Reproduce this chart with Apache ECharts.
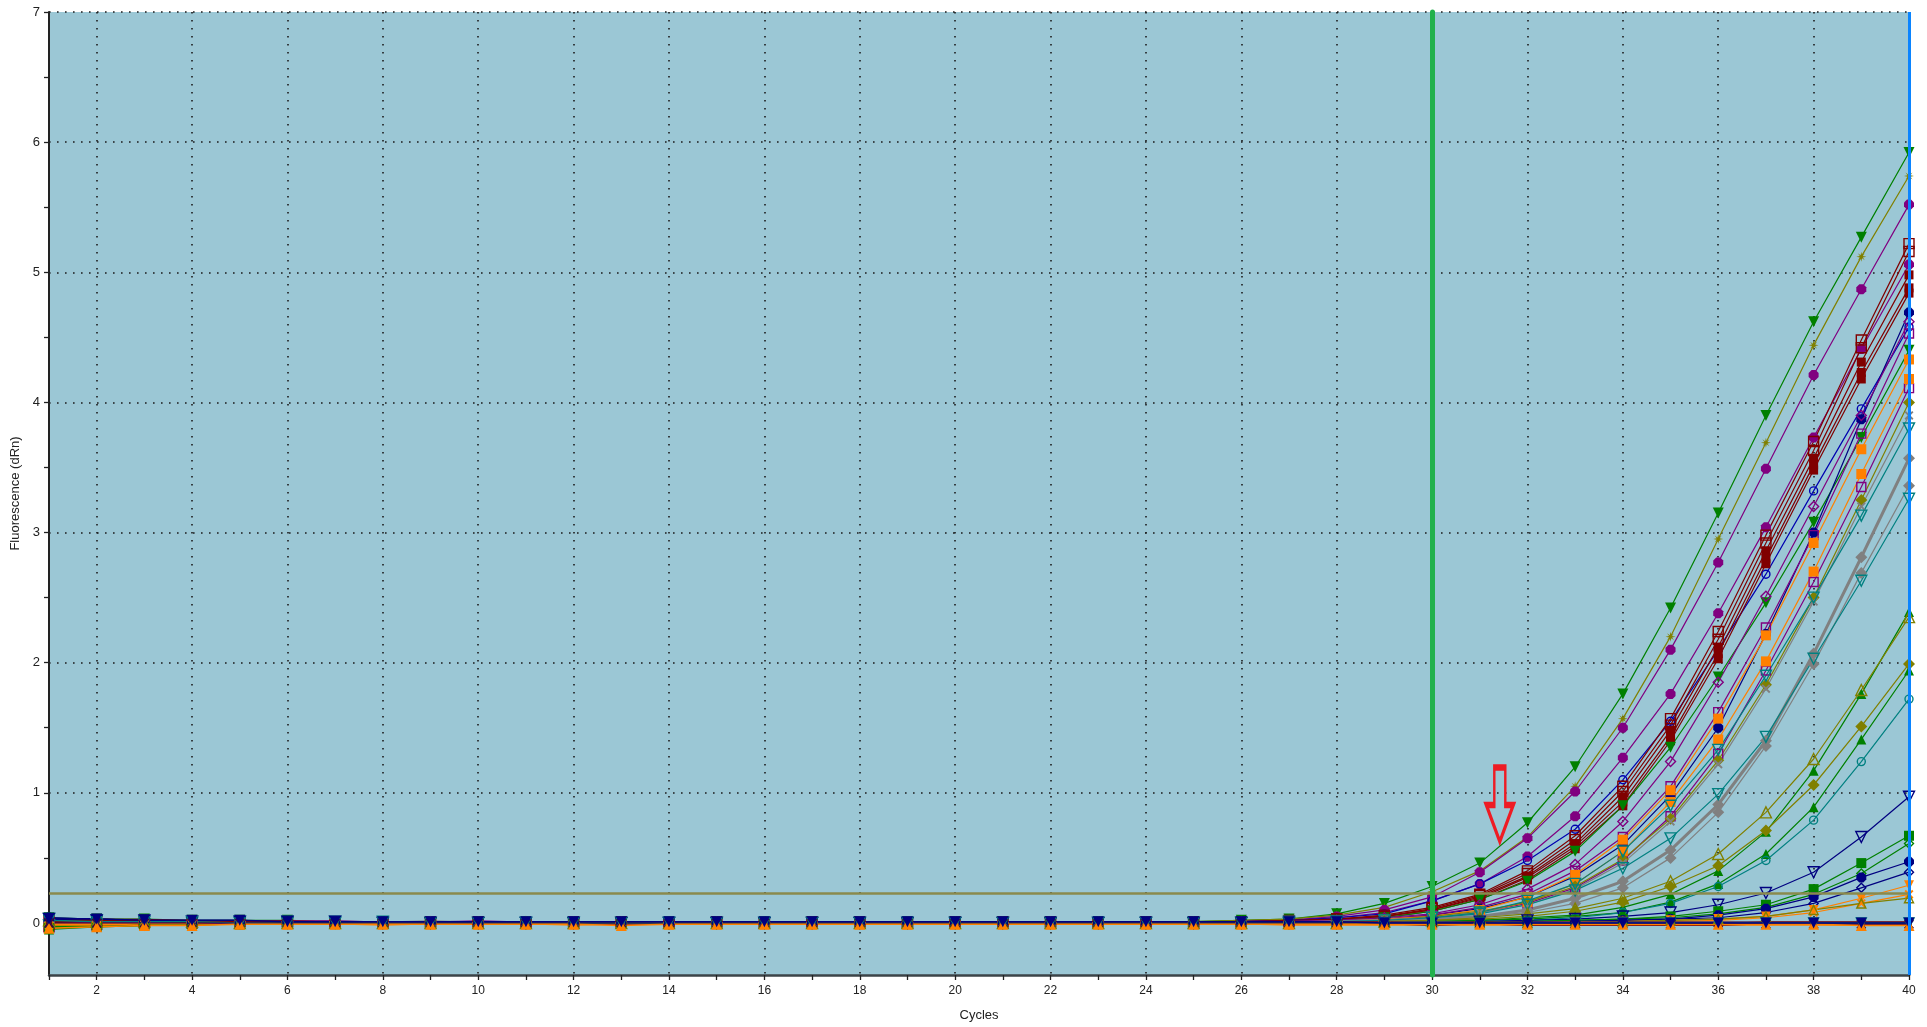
<!DOCTYPE html>
<html>
<head>
<meta charset="utf-8">
<title>Amplification Plots</title>
<script src="https://cdn.jsdelivr.net/npm/echarts@6/dist/echarts.min.js"></script>
<style>
  html, body { margin: 0; padding: 0; background: #ffffff; }
  #chart { width: 1927px; height: 1027px; }
</style>
</head>
<body>
<div id="chart"></div>
<script>
// ---- axis values -------------------------------------------------------
const cycles = [1,2,3,4,5,6,7,8,9,10,11,12,13,14,15,16,17,18,19,20,
                21,22,23,24,25,26,27,28,29,30,31,32,33,34,35,36,37,38,39,40];
const cycleLabels = [2,4,6,8,10,12,14,16,18,20,22,24,26,28,30,32,34,36,38,40];
const fluorLabels = [0,1,2,3,4,5,6,7];
const fluorTicks = [0,0.5,1,1.5,2,2.5,3,3.5,4,4.5,5,5.5,6,6.5,7];
const thresholdLevel = 0.23;
const cursorCycle = 30;
const endCycle = 40;
const arrowAt = [31.42, 0.91];

// ---- fluorescence (dRn) per well, cycles 1..40 --------------------------
const wellA01 = [.04,.03,.03,.02,.02,.02,.01,.01,.01,.01,.01,.01,.01,
                 .01,.01,.01,.01,.01,.01,.01,.01,.01,.01,.01,.01,.02,
                 .03,.07,.15,.28,.46,.77,1.20,1.76,2.42,3.15,3.90,4.62,5.27,5.92];
const wellA02 = [.02,.02,.02,.02,.01,.01,.01,.01,.01,.00,.01,.01,.00,
                 .01,.01,.01,.01,.00,.01,.01,.01,.01,.01,.01,.01,.02,
                 .03,.06,.12,.24,.40,.66,1.05,1.57,2.20,2.95,3.69,4.44,5.12,5.74];
const wellA03 = [.03,.02,.01,.01,.01,.01,.01,.01,.00,.00,.00,.00,.00,
                 .00,.00,.00,.00,.00,.00,.00,.01,.00,.00,.00,.01,.01,
                 .02,.05,.10,.20,.39,.65,1.01,1.50,2.10,2.77,3.49,4.21,4.87,5.52];
const wellA04 = [.03,.03,.02,.02,.01,.01,.01,.01,.01,.01,.01,.00,.01,
                 .01,.01,.00,.01,.01,.01,.00,.01,.01,.01,.01,.01,.01,
                 .02,.04,.08,.17,.30,.51,.82,1.27,1.76,2.38,3.04,3.73,4.41,5.06];
const wellA05 = [.01,.02,.01,.01,.01,.00,.00,.00,.00,.00,.00,.00,-.01,
                 .00,.00,.00,.00,.00,.00,.00,.00,.00,.00,.00,.00,.01,
                 .02,.04,.07,.17,.30,.48,.72,1.10,1.55,2.10,2.68,3.32,3.95,4.58];
const wellA06 = [.02,.02,.01,.01,.01,.01,.01,.00,.01,.01,.00,.01,.01,
                 .00,.01,.00,.01,.01,.00,.01,.01,.01,.00,.01,.01,.01,
                 .02,.03,.06,.12,.22,.40,.67,1.05,1.57,2.24,2.98,3.70,4.48,5.22];
const wellA07 = [-.03,-.01,.00,.00,.01,.01,.00,.00,.00,.00,.00,.00,.00,
                 .00,.00,.00,.00,.00,.00,.00,.00,.00,.00,.00,.00,.00,
                 .01,.03,.05,.11,.21,.38,.64,1.01,1.52,2.18,2.92,3.63,4.42,5.16];
const wellA08 = [.00,.01,.01,.01,.01,.01,.01,.00,.01,.00,.00,.01,.00,
                 .00,.00,.01,.00,.00,.00,.00,.00,.00,.00,.00,.00,.00,
                 .01,.03,.05,.10,.20,.36,.61,.97,1.48,2.12,2.86,3.57,4.31,4.98];
const wellA09 = [-.02,-.01,-.01,.00,.00,.00,.00,.00,.00,.00,.00,.00,.00,
                 .00,.00,.00,-.01,.00,.00,.00,.00,.00,.00,.00,.00,.00,
                 .01,.02,.05,.10,.19,.35,.59,.93,1.43,2.07,2.80,3.52,4.23,4.88];
const wellA10 = [.03,.02,.01,.01,.01,.01,.01,.01,.00,.00,.00,.00,.00,
                 .00,.00,.00,.00,.00,.00,.00,.00,.00,.00,.00,.00,.00,
                 .01,.02,.04,.09,.18,.33,.57,.90,1.40,2.03,2.76,3.48,4.18,4.84];
const wellA11 = [-.04,-.02,-.01,-.01,.00,.00,.00,.00,.00,.00,.00,.00,.00,
                 .00,.00,.00,.00,.00,.00,.00,.00,.00,.00,.00,.00,.00,
                 .01,.02,.04,.09,.18,.32,.55,.90,1.35,1.89,2.46,3.08,3.73,4.40];
const wellA12 = [.04,.03,.02,.02,.02,.01,.01,.01,.01,.01,.01,.01,.01,
                 .01,.01,.01,.01,.01,.01,.01,.01,.01,.01,.01,.01,.01,
                 .01,.02,.03,.06,.11,.20,.36,.60,.98,1.50,2.22,3.00,3.87,4.69];
const wellB01 = [.01,.01,.01,.01,.01,.00,.00,.00,.00,.00,.00,.00,.00,
                 .00,.00,.00,.00,.00,.00,.00,.00,.00,.00,.00,.00,.00,
                 .01,.02,.04,.07,.14,.26,.45,.78,1.24,1.85,2.51,3.20,3.90,4.62];
const wellB02 = [.01,.01,.01,.01,.01,.01,.00,.00,.01,.00,.00,.01,.00,
                 .00,.00,.00,.00,.00,.00,.00,.00,.00,.00,.00,.00,.00,
                 .01,.02,.03,.06,.12,.22,.40,.66,1.05,1.62,2.27,2.98,3.76,4.53];
const wellB03 = [-.03,-.02,-.01,.00,.00,.00,.00,.00,.00,.00,.00,.00,.00,
                 .00,.00,.00,.00,.00,.00,.00,.00,.00,.00,.00,.00,.00,
                 .01,.01,.02,.04,.08,.15,.27,.48,.82,1.30,1.94,2.62,3.35,4.11];
const wellB04 = [-.02,-.01,-.01,.00,.00,.00,.00,.00,.00,.00,.00,.00,.00,
                 .00,.00,.00,.00,.00,-.01,.00,.00,.00,.00,.00,.00,.00,
                 .01,.01,.03,.05,.10,.20,.37,.64,1.02,1.57,2.21,2.92,3.64,4.33];
const wellB05 = [-.04,-.03,-.02,-.01,-.01,.00,.00,.00,.00,.00,.00,.00,.00,
                 .00,.00,.00,.00,.00,.00,.00,.00,.00,.00,.00,.00,.00,
                 .01,.01,.02,.04,.08,.16,.30,.55,.93,1.41,2.01,2.70,3.45,4.18];
const wellB06 = [.02,.02,.01,.01,.01,.01,.01,.00,.00,.00,.01,.00,.00,
                 .00,.00,.00,.00,.00,.00,.00,.00,.00,.00,.00,.00,.00,
                 .01,.01,.02,.05,.09,.16,.28,.49,.80,1.25,1.83,2.50,3.25,4.00];
const wellB07 = [.01,.02,.01,.01,.00,.00,.00,.00,.00,.00,.00,.00,.00,
                 .00,.00,.00,.00,.00,.00,.00,.00,.00,.00,.00,.00,.00,
                 .01,.01,.02,.04,.08,.14,.26,.46,.78,1.22,1.80,2.47,3.20,3.90];
const wellB08 = [.03,.02,.01,.01,.01,.01,.01,.01,.00,.00,.00,.00,.00,
                 .00,.00,.00,.00,.00,.00,.00,.00,.00,.00,.00,.00,.00,
                 .01,.01,.02,.04,.08,.17,.30,.55,.90,1.33,1.90,2.50,3.13,3.80];
const wellB09 = [.00,.01,.01,.01,.01,.01,.01,.00,.01,.00,.00,.00,.00,
                 .00,.00,.00,.00,.00,.00,.00,.00,.00,.00,.00,.00,.00,
                 .00,.01,.02,.03,.05,.10,.19,.32,.56,.91,1.40,2.07,2.81,3.57];
const wellB10 = [-.03,-.01,.00,.00,.00,.00,.00,.00,.00,.00,.00,.00,.00,
                 .00,.00,.00,.00,.00,.00,.00,.00,.00,.00,.00,.00,.00,
                 .00,.01,.01,.03,.05,.08,.15,.27,.50,.85,1.36,1.99,2.69,3.36];
const wellB11 = [-.02,-.01,-.01,.00,.00,.00,.00,.00,.00,.00,.00,.00,.00,
                 .00,.00,.00,.00,.00,.00,.00,.00,.00,.00,.00,.00,.00,
                 .00,.01,.02,.04,.07,.14,.25,.42,.65,.99,1.43,2.03,2.63,3.26];
const wellC01 = [-.05,-.03,-.02,-.01,-.01,.00,.00,.00,.00,.00,.00,.00,.00,
                 .00,.00,.00,.00,.00,.00,.00,.00,.00,.00,.00,.00,.00,
                 .00,.00,.01,.01,.02,.04,.06,.12,.22,.40,.70,1.17,1.76,2.39];
const wellC02 = [.02,.01,.01,.01,.00,.00,.00,.00,.00,.00,.00,.00,.00,
                 .00,.00,.00,.00,.00,.00,.00,.00,.00,.00,.00,.00,.00,
                 .00,.00,.01,.02,.04,.07,.11,.19,.32,.53,.85,1.26,1.79,2.35];
const wellC03 = [-.01,.00,.00,.00,.00,.00,.00,.00,.00,.00,.00,.00,.00,
                 .00,.00,.00,.00,.00,.00,.00,.00,.00,.00,.00,.00,.00,
                 .00,.00,.01,.02,.03,.05,.09,.16,.28,.44,.71,1.06,1.51,1.99];
const wellC04 = [-.03,-.02,-.01,-.01,.00,.00,.00,.00,.00,.00,.00,.00,.00,
                 .00,.00,.00,.00,.00,.00,.00,.00,.00,.00,.00,.00,.00,
                 .00,.00,.00,.01,.02,.03,.05,.08,.16,.30,.53,.89,1.41,1.94];
const wellC05 = [.02,.02,.01,.01,.01,.00,.00,.00,.00,.00,.00,.00,.00,
                 .00,.00,.00,.00,.00,.00,.00,.00,.00,.00,.00,.00,.00,
                 .00,.00,.00,.01,.01,.02,.04,.08,.15,.28,.48,.79,1.24,1.72];
const wellC06 = [.03,.02,.02,.01,.01,.01,.01,.00,.00,.00,.00,.00,.00,
                 .00,.00,.00,.00,.00,.00,.00,.00,.00,.00,.00,.00,.00,
                 .00,.00,.00,.00,.01,.02,.03,.05,.08,.14,.23,.39,.66,.97];
const wellC07 = [-.04,-.02,-.01,-.01,-.01,.00,.00,.00,.00,.00,.00,.00,.00,
                 .00,.00,.00,.00,.00,.00,.00,.00,.00,.00,.00,.00,.00,
                 .00,.00,.00,.00,.01,.01,.02,.03,.05,.09,.14,.26,.46,.67];
const wellC08 = [-.02,-.02,-.01,.00,.00,.00,.00,.00,.00,.00,.00,.00,.00,
                 .00,.00,.00,.00,.00,.00,.00,.00,.00,.00,.00,.00,.00,
                 .00,.00,.00,.00,.00,.01,.02,.03,.04,.07,.12,.22,.38,.61];
const wellC09 = [.04,.03,.02,.01,.01,.01,.01,.01,.00,.00,.00,.00,.00,
                 .00,.00,.00,.00,.00,.00,.00,.00,.00,.00,.00,.00,.00,
                 .00,.00,.00,.00,.00,.01,.01,.02,.03,.06,.11,.20,.35,.47];
const wellC10 = [.02,.02,.01,.01,.01,.01,.00,.00,.00,.00,.00,.00,.00,
                 .00,.00,.00,.00,.00,.00,.00,.00,.00,.00,.00,.00,.00,
                 .00,.00,.00,.00,.00,.00,.01,.02,.03,.04,.08,.15,.27,.39];
const wellC11 = [-.03,-.02,-.01,-.01,-.01,.00,.00,.00,.00,.00,.00,.00,.00,
                 .00,.00,.00,.00,.00,.00,.00,.00,.00,.00,.00,.00,.00,
                 .00,.00,.00,.00,.00,.00,.01,.01,.02,.03,.05,.10,.19,.29];
const wellC12 = [-.02,-.02,-.01,-.01,.00,.00,.00,.00,.00,.00,.00,.00,.00,
                 .00,.00,.00,.00,.00,.00,.00,.00,.00,.00,.00,.00,.00,
                 .00,.00,.00,.00,.00,.00,.00,.01,.01,.02,.04,.08,.15,.22];
const wellD01 = [.01,.01,.01,.00,.00,.00,.00,.00,.00,.00,.00,.00,.00,
                 .00,.00,.00,.00,.00,.00,.00,.00,.00,.00,.00,.00,.00,
                 .00,.00,.00,.00,.00,.00,.00,.01,.02,.03,.05,.10,.15,.19];
// no-template controls
const ntc1 = [.01,.02,.02,.01,.01,.01,.00,.00,.00,.00,.00,.00,.00,
              .00,.00,.00,.00,.00,.00,.00,.00,.00,.00,.00,.00,.00,
              .00,.00,.00,-.01,.00,-.01,-.01,-.01,-.01,-.01,.00,.00,.00,.00];
const ntc2 = [-.04,-.03,-.02,-.02,-.01,-.01,-.01,-.01,-.01,-.01,-.01,-.01,-.02,
              -.01,-.01,-.01,-.01,-.01,-.01,-.01,-.01,-.01,-.01,-.01,-.01,-.01,
              -.01,-.01,-.01,-.01,-.01,-.01,-.01,-.01,-.01,-.01,-.01,-.01,-.02,-.02];
const ntc3 = [.03,.03,.02,.02,.02,.01,.01,.01,.01,.01,.01,.01,.01,
              .01,.01,.01,.01,.01,.01,.01,.01,.01,.01,.01,.01,.01,
              .01,.01,.00,.00,.00,.00,.00,.00,.00,.00,.00,.00,.00,.00];
const ntc4 = [.00,.00,.00,.00,.00,.00,.00,.00,.00,.00,.00,.00,.00,
              .00,.00,.00,.00,.00,.00,.00,.00,.00,.00,.00,.00,.00,
              .00,.00,.00,.00,.00,-.01,-.01,-.01,-.01,.00,-.01,-.01,-.01,-.01];
const ntc5 = [.01,.01,.01,.01,.00,.01,.01,.00,.00,.01,.00,.00,.00,
              .00,.00,.00,.00,.00,.00,.00,.00,.00,.00,.00,.00,.00,
              .00,.00,.00,.00,.00,.00,.00,.00,.00,.00,.00,.00,.00,.00];
const ntc6 = [-.01,-.01,.00,.00,.00,.00,.00,-.01,.00,.00,.00,-.01,.00,
              .00,.00,.00,.00,.00,.00,.00,.00,.00,.00,.00,.00,.00,
              -.01,-.01,-.01,-.01,-.01,-.01,-.01,-.01,-.01,-.01,-.01,-.01,-.01,-.01];
const ntc7 = [-.03,-.02,-.01,-.01,.00,.00,.00,.00,.00,.00,.00,.00,.00,
              .00,.00,.00,.00,.00,.00,.00,.00,.00,.00,.00,.00,.00,
              .00,.00,.00,.00,.00,.00,.00,.00,.00,.00,.00,.00,.00,.00];
const ntc8 = [.02,.01,.01,.01,.00,.00,.00,.00,.00,.00,.00,.00,.00,
              .00,.00,.00,.00,.00,.00,.00,.00,.00,.00,.00,.00,.00,
              .00,.00,.00,.00,.00,.00,.00,.00,.00,.00,.00,.00,.00,.00];

// ---- marker shapes ------------------------------------------------------
const MARKS = {
  tri: 'triangle',
  sq: 'rect',
  dia: 'diamond',
  circ: 'circle',
  hex: 'path://M6,0L14,0L20,6L20,14L14,20L6,20L0,14L0,6Z',
  star: 'path://M10,0L11.5,7L17,3L13,8.5L20,10L13,11.5L17,17L11.5,13L10,20L8.5,13L3,17L7,11.5L0,10L7,8.5L3,3L8.5,7Z',
  cross: 'path://M0,3L3,0L10,7L17,0L20,3L13,10L20,17L17,20L10,13L3,20L0,17L7,10Z'
};
const ARROW = 'path://M7,0L18,0L18,37L26,37L12.5,73L-1,37L7,37Z';

const GREEN = '#008000', OLIVE = '#808000', PURPLE = '#800080', DKRED = '#800000',
      NAVY = '#000080', BLUE = '#0000b0', ORANGE = '#ff8000', TEAL = '#008080', GRAY = '#808080';

// drawing order: sample curves first, control wells (flat band) above them
const traces = [
  { name: 'A01', data: wellA01, color: GREEN, mark: 'tri', down: true, size: 11 },
  { name: 'A02', data: wellA02, color: OLIVE, mark: 'star', size: 10 },
  { name: 'A03', data: wellA03, color: PURPLE, mark: 'hex', size: 10 },
  { name: 'A04', data: wellA04, color: PURPLE, mark: 'hex', size: 10 },
  { name: 'A05', data: wellA05, color: BLUE, mark: 'circ', open: true, size: 8 },
  { name: 'A06', data: wellA06, color: DKRED, mark: 'sq', open: true, size: 10 },
  { name: 'A07', data: wellA07, color: DKRED, mark: 'sq', open: true, size: 10 },
  { name: 'A08', data: wellA08, color: DKRED, mark: 'sq', size: 9 },
  { name: 'A09', data: wellA09, color: DKRED, mark: 'sq', size: 9 },
  { name: 'A10', data: wellA10, color: DKRED, mark: 'sq', size: 9 },
  { name: 'A11', data: wellA11, color: GREEN, mark: 'tri', down: true, size: 11 },
  { name: 'A12', data: wellA12, color: NAVY, mark: 'hex', size: 10 },
  { name: 'B01', data: wellB01, color: PURPLE, mark: 'dia', open: true, size: 10 },
  { name: 'B02', data: wellB02, color: PURPLE, mark: 'sq', open: true, size: 9 },
  { name: 'B03', data: wellB03, color: PURPLE, mark: 'sq', open: true, size: 9 },
  { name: 'B04', data: wellB04, color: ORANGE, mark: 'sq', size: 10 },
  { name: 'B05', data: wellB05, color: ORANGE, mark: 'sq', size: 10 },
  { name: 'B06', data: wellB06, color: OLIVE, mark: 'dia', size: 12 },
  { name: 'B07', data: wellB07, color: GRAY, mark: 'cross', size: 9 },
  { name: 'B08', data: wellB08, color: TEAL, mark: 'tri', down: true, open: true, size: 11 },
  { name: 'B09', data: wellB09, color: GRAY, mark: 'dia', size: 12, width: 3 },
  { name: 'B10', data: wellB10, color: GRAY, mark: 'dia', size: 12 },
  { name: 'B11', data: wellB11, color: TEAL, mark: 'tri', down: true, open: true, size: 11 },
  { name: 'C01', data: wellC01, color: GREEN, mark: 'tri', size: 10 },
  { name: 'C02', data: wellC02, color: OLIVE, mark: 'tri', open: true, size: 11 },
  { name: 'C03', data: wellC03, color: OLIVE, mark: 'dia', size: 12 },
  { name: 'C04', data: wellC04, color: GREEN, mark: 'tri', size: 10 },
  { name: 'C05', data: wellC05, color: TEAL, mark: 'circ', open: true, size: 8 },
  { name: 'C06', data: wellC06, color: NAVY, mark: 'tri', down: true, open: true, size: 11 },
  { name: 'C07', data: wellC07, color: GREEN, mark: 'sq', size: 10 },
  { name: 'C08', data: wellC08, color: GREEN, mark: 'dia', open: true, size: 9 },
  { name: 'C09', data: wellC09, color: NAVY, mark: 'hex', size: 10 },
  { name: 'C10', data: wellC10, color: NAVY, mark: 'dia', open: true, size: 9 },
  { name: 'C11', data: wellC11, color: ORANGE, mark: 'tri', down: true, size: 10 },
  { name: 'C12', data: wellC12, color: ORANGE, mark: 'cross', size: 9 },
  { name: 'D01', data: wellD01, color: OLIVE, mark: 'tri', open: true, size: 9 },
  { name: 'NTC 7', data: ntc7, color: GREEN, mark: 'circ', size: 5, width: 3 },
  { name: 'NTC 6', data: ntc6, color: ORANGE, mark: 'sq', size: 6, width: 3 },
  { name: 'NTC 5', data: ntc5, color: PURPLE, mark: 'circ', size: 5, width: 3 },
  { name: 'NTC 1', data: ntc1, color: DKRED, mark: 'sq', size: 6, width: 3 },
  { name: 'NTC 8', data: ntc8, color: TEAL, mark: 'tri', down: true, open: true, size: 10, width: 1.5 },
  { name: 'NTC 4', data: ntc4, color: '#3a0a40', mark: 'cross', size: 10, width: 1 },
  { name: 'NTC 2', data: ntc2, color: ORANGE, mark: 'tri', size: 11, width: 1.5 },
  { name: 'NTC 3', data: ntc3, color: NAVY, mark: 'tri', down: true, size: 11, width: 1.5 }
];

function toSeries(t) {
  return {
    type: 'line',
    name: t.name,
    xAxisIndex: 0,
    yAxisIndex: 0,
    data: cycles.map((c, i) => [c, t.data[i]]),
    symbol: MARKS[t.mark],
    symbolRotate: t.down ? 180 : 0,
    symbolSize: t.size,
    showSymbol: true,
    lineStyle: { color: t.color, width: t.width || 1.2 },
    itemStyle: t.open
      ? { color: 'rgba(0,0,0,0)', borderColor: t.color, borderWidth: 1.4 }
      : { color: t.color, borderWidth: 0 },
    emphasis: { disabled: true },
    silent: true,
    clip: false,
    animation: false
  };
}

const FONT = '"Liberation Sans", Arial, sans-serif';
const dotted = { color: '#1c1c1c', width: 1.6, type: [1.6, 6.4] };

const series = traces.map(toSeries);
series.push({
  type: 'line',
  name: 'markers',
  xAxisIndex: 0,
  yAxisIndex: 0,
  data: [],
  silent: true,
  animation: false,
  markLine: {
    silent: true,
    animation: false,
    symbol: ['none', 'none'],
    label: { show: false },
    emphasis: { disabled: true },
    data: [
      { yAxis: thresholdLevel, lineStyle: { color: '#8a8a4c', width: 2.5, type: 'solid' } },
      { xAxis: endCycle, lineStyle: { color: '#0a84ff', width: 3, type: 'solid' } },
      { xAxis: cursorCycle, lineStyle: { color: '#22b14c', width: 5, type: 'solid', cap: 'round' } }
    ]
  },
  markPoint: {
    silent: true,
    animation: false,
    label: { show: false },
    data: [{
      coord: arrowAt,
      symbol: ARROW,
      symbolSize: [27, 74],
      itemStyle: { color: 'rgba(0,0,0,0)', borderColor: '#ee1c24', borderWidth: 4 }
    }]
  }
});

const chart = echarts.init(document.getElementById('chart'), null, { renderer: 'canvas' });
chart.setOption({
  animation: false,
  backgroundColor: '#ffffff',
  textStyle: { fontFamily: FONT },
  grid: {
    left: 49, right: 18, top: 12, bottom: 52,
    show: true, backgroundColor: '#9bc7d5', borderWidth: 0
  },
  xAxis: [
    {
      type: 'value', min: 1, max: 40, position: 'bottom',
      name: 'Cycles', nameLocation: 'middle', nameGap: 34,
      nameTextStyle: { color: '#222', fontSize: 13, fontFamily: FONT },
      axisLine: { show: true, onZero: false, lineStyle: { color: '#3c4448', width: 2.5 } },
      axisTick: { show: true, customValues: cycles, length: 5, lineStyle: { color: '#222', width: 1.3 } },
      axisLabel: { customValues: cycleLabels, color: '#222', fontSize: 12, margin: 10, fontFamily: FONT },
      splitLine: { show: false }
    },
    {
      type: 'value', min: 1, max: 40, position: 'top',
      axisLine: { show: false },
      axisTick: { show: false, customValues: cycleLabels },
      axisLabel: { show: false },
      splitLine: { show: true, lineStyle: dotted }
    }
  ],
  yAxis: [
    {
      type: 'value', min: -0.4, max: 7, position: 'left',
      name: 'Fluorescence (dRn)', nameLocation: 'middle', nameGap: 20, nameRotate: 90,
      nameTextStyle: { color: '#222', fontSize: 13, fontFamily: FONT },
      axisLine: { show: true, onZero: false, lineStyle: { color: '#222', width: 2 } },
      axisTick: { show: true, customValues: fluorTicks, length: 5, lineStyle: { color: '#222', width: 1.3 } },
      axisLabel: { customValues: fluorLabels, color: '#222', fontSize: 13, margin: 9, fontFamily: FONT },
      splitLine: { show: false }
    },
    {
      type: 'value', min: -0.4, max: 7, position: 'right',
      axisLine: { show: false },
      axisTick: { show: false, customValues: fluorLabels },
      axisLabel: { show: false },
      splitLine: { show: true, lineStyle: dotted }
    }
  ],
  series: series
});
</script>
</body>
</html>
